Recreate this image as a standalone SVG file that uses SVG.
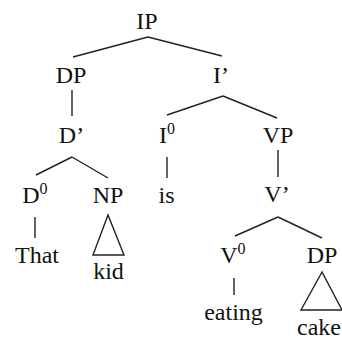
<svg xmlns="http://www.w3.org/2000/svg" width="342" height="338" viewBox="0 0 342 338">
<rect width="342" height="338" fill="#fff"/>
<g id="connectors" stroke="#222" stroke-width="1.4" fill="none">
<line x1="148" y1="37" x2="73" y2="57"/>
<line x1="148" y1="37" x2="222" y2="56"/>
<line x1="72" y1="90" x2="72" y2="116"/>
<line x1="223" y1="96" x2="167" y2="115"/>
<line x1="223" y1="96" x2="277" y2="118"/>
<line x1="72" y1="157" x2="36" y2="175"/>
<line x1="72" y1="157" x2="108" y2="178"/>
<line x1="167" y1="157" x2="167" y2="178"/>
<line x1="278" y1="150" x2="278" y2="177"/>
<line x1="35" y1="217" x2="35" y2="238"/>
<polygon points="108,215 93,255 124,255"/>
<line x1="278" y1="217" x2="235" y2="236"/>
<line x1="278" y1="217" x2="322" y2="238"/>
<line x1="234" y1="278" x2="234" y2="295"/>
<polygon points="322,272 301,310 342,310"/>
</g>
<g id="IP"><text x="136.3" y="29" font-size="24" font-family="Liberation Serif" fill="#111">IP</text></g>
<g id="DP1"><text x="55.7" y="83" font-size="24" font-family="Liberation Serif" fill="#111">DP</text></g>
<g id="Ibar"><text x="213" y="83" font-size="24" font-family="Liberation Serif" fill="#111">I’</text></g>
<g id="Dbar"><text x="58.8" y="143" font-size="24" font-family="Liberation Serif" fill="#111">D’</text></g>
<g id="I0"><text x="159" y="143" font-size="24" font-family="Liberation Serif" fill="#111">I</text><text x="167" y="134" font-size="16" font-family="Liberation Serif" fill="#111">0</text></g>
<g id="VP"><text x="262.7" y="143" font-size="24" font-family="Liberation Serif" fill="#111">VP</text></g>
<g id="D0"><text x="22.3" y="203" font-size="24" font-family="Liberation Serif" fill="#111">D</text><text x="39.6" y="194" font-size="16" font-family="Liberation Serif" fill="#111">0</text></g>
<g id="NP"><text x="92.7" y="203" font-size="24" font-family="Liberation Serif" fill="#111">NP</text></g>
<g id="is"><text x="158.5" y="203" font-size="24" font-family="Liberation Serif" fill="#111">is</text></g>
<g id="Vbar"><text x="264.3" y="202" font-size="24" font-family="Liberation Serif" fill="#111">V’</text></g>
<g id="That"><text x="15" y="263" font-size="24" font-family="Liberation Serif" fill="#111">That</text></g>
<g id="kid"><text x="93.2" y="279" font-size="24" font-family="Liberation Serif" fill="#111">kid</text></g>
<g id="V0"><text x="220.3" y="263" font-size="24" font-family="Liberation Serif" fill="#111">V</text><text x="237.6" y="254" font-size="16" font-family="Liberation Serif" fill="#111">0</text></g>
<g id="DP2"><text x="306.7" y="263" font-size="24" font-family="Liberation Serif" fill="#111">DP</text></g>
<g id="eating"><text x="204.2" y="320" font-size="24" font-family="Liberation Serif" fill="#111">eating</text></g>
<g id="cake"><text x="297" y="335" font-size="24" font-family="Liberation Serif" fill="#111">cake</text></g>
</svg>
